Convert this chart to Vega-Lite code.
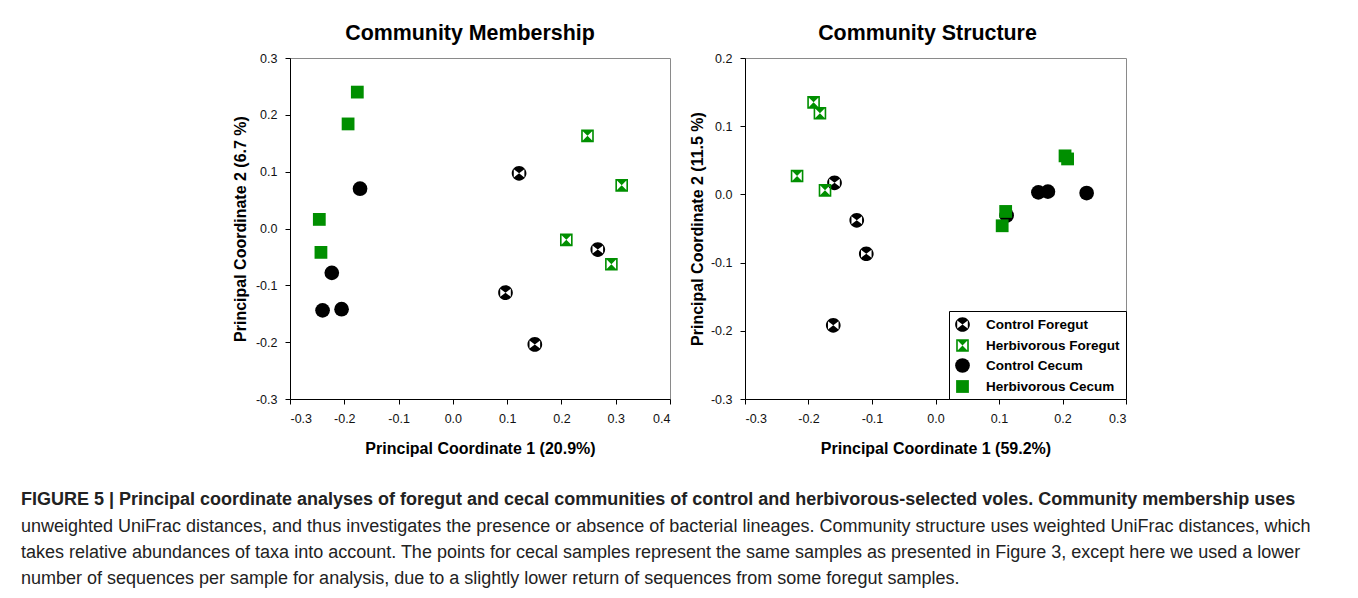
{
  "$schema": "https://vega.github.io/schema/vega-lite/v6.json",
  "padding": {"left": 20, "top": 22, "right": 5, "bottom": 5},
  "background": "white",
  "config": {
    "font": "Liberation Sans",
    "view": {"stroke": "#8a8a8a", "strokeWidth": 1},
    "axis": {
      "domainColor": "#000", "tickColor": "#000", "tickSize": 5, "grid": false,
      "labelFontSize": 12.5, "labelColor": "#111", "labelFont": "Liberation Sans",
      "titleFont": "Liberation Sans", "titleFontSize": 16, "titleFontWeight": "bold", "titleColor": "#000"
    }
  },
  "datasets": {
    "membership": [
      {"group": "Control Foregut", "pc1": 0.122, "pc2": 0.097},
      {"group": "Control Foregut", "pc1": 0.097, "pc2": -0.113},
      {"group": "Control Foregut", "pc1": 0.151, "pc2": -0.204},
      {"group": "Control Foregut", "pc1": 0.267, "pc2": -0.037},
      {"group": "Herbivorous Foregut", "pc1": 0.248, "pc2": 0.163},
      {"group": "Herbivorous Foregut", "pc1": 0.311, "pc2": 0.076},
      {"group": "Herbivorous Foregut", "pc1": 0.209, "pc2": -0.020},
      {"group": "Herbivorous Foregut", "pc1": 0.292, "pc2": -0.063},
      {"group": "Control Cecum", "pc1": -0.171, "pc2": 0.070},
      {"group": "Control Cecum", "pc1": -0.223, "pc2": -0.078},
      {"group": "Control Cecum", "pc1": -0.240, "pc2": -0.144},
      {"group": "Control Cecum", "pc1": -0.205, "pc2": -0.142},
      {"group": "Herbivorous Cecum", "pc1": -0.176, "pc2": 0.240},
      {"group": "Herbivorous Cecum", "pc1": -0.193, "pc2": 0.184},
      {"group": "Herbivorous Cecum", "pc1": -0.246, "pc2": 0.016},
      {"group": "Herbivorous Cecum", "pc1": -0.243, "pc2": -0.042}
    ],
    "structure": [
      {"group": "Control Foregut", "pc1": -0.159, "pc2": 0.017},
      {"group": "Control Foregut", "pc1": -0.124, "pc2": -0.038},
      {"group": "Control Foregut", "pc1": -0.109, "pc2": -0.087},
      {"group": "Control Foregut", "pc1": -0.161, "pc2": -0.192},
      {"group": "Herbivorous Foregut", "pc1": -0.192, "pc2": 0.135},
      {"group": "Herbivorous Foregut", "pc1": -0.182, "pc2": 0.119},
      {"group": "Herbivorous Foregut", "pc1": -0.218, "pc2": 0.027},
      {"group": "Herbivorous Foregut", "pc1": -0.174, "pc2": 0.006},
      {"group": "Control Cecum", "pc1": 0.112, "pc2": -0.031},
      {"group": "Control Cecum", "pc1": 0.162, "pc2": 0.003},
      {"group": "Control Cecum", "pc1": 0.177, "pc2": 0.004},
      {"group": "Control Cecum", "pc1": 0.238, "pc2": 0.002},
      {"group": "Herbivorous Cecum", "pc1": 0.1105, "pc2": -0.025},
      {"group": "Herbivorous Cecum", "pc1": 0.105, "pc2": -0.046},
      {"group": "Herbivorous Cecum", "pc1": 0.204, "pc2": 0.0565},
      {"group": "Herbivorous Cecum", "pc1": 0.208, "pc2": 0.052}
    ]
  },
  "title": {
    "text": ["FIGURE 5 | Principal coordinate analyses of foregut and cecal communities of control and herbivorous-selected voles. Community membership uses"],
    "subtitle": [
      "unweighted UniFrac distances, and thus investigates the presence or absence of bacterial lineages. Community structure uses weighted UniFrac distances, which",
      "takes relative abundances of taxa into account. The points for cecal samples represent the same samples as presented in Figure 3, except here we used a lower",
      "number of sequences per sample for analysis, due to a slightly lower return of sequences from some foregut samples."
    ],
    "orient": "bottom", "anchor": "start", "frame": "bounds",
    "font": "Liberation Sans", "subtitleFont": "Liberation Sans",
    "fontSize": 18, "subtitleFontSize": 18, "fontWeight": "bold", "subtitleFontWeight": "normal",
    "color": "#222", "subtitleColor": "#222",
    "offset": 34, "dx": -211, "lineHeight": 26, "subtitleLineHeight": 26, "subtitlePadding": 9
  },
  "spacing": 17,
  "resolve": {"scale": {"color": "independent", "shape": "independent"}},
  "hconcat": [
    {
      "title": {"text": "Community Membership", "fontSize": 21.4, "fontWeight": "bold", "anchor": "middle", "dx": -10, "offset": 8, "color": "#000"},
      "width": 380, "height": 341,
      "data": {"name": "membership"},
      "mark": {"type": "point", "filled": true, "size": 216, "opacity": 1},
      "encoding": {
        "x": {"field": "pc1", "type": "quantitative",
          "scale": {"domain": [-0.3, 0.4], "nice": false, "zero": false},
          "axis": {"values": [-0.3, -0.2, -0.1, 0, 0.1, 0.2, 0.3, 0.4], "title": "Principal Coordinate 1 (20.9%)",
            "labelExpr": "replace(format(datum.value, '.1f'), '\u2212', '-')", "labelPadding": 8, "titlePadding": 16}},
        "y": {"field": "pc2", "type": "quantitative",
          "scale": {"domain": [-0.3, 0.3], "nice": false, "zero": false},
          "axis": {"values": [-0.3, -0.2, -0.1, 0, 0.1, 0.2, 0.3], "title": "Principal Coordinate 2 (6.7 %)",
            "labelExpr": "replace(format(datum.value, '.1f'), '\u2212', '-')", "labelPadding": 8, "titlePadding": 7}},
        "color": {"field": "group", "type": "nominal",
          "scale": {"domain": ["Control Foregut", "Herbivorous Foregut", "Control Cecum", "Herbivorous Cecum"], "range": ["#000000", "#008f00", "#000000", "#008f00"]},
          "legend": null},
        "shape": {"field": "group", "type": "nominal",
          "scale": {"domain": ["Control Foregut", "Herbivorous Foregut", "Control Cecum", "Herbivorous Cecum"],
            "range": [
              "M1,0A1,1 0 1,1 -1,0A1,1 0 1,1 1,0Z M0,0L-0.72,-0.55L-0.72,0.55Z M0,0L0.72,0.55L0.72,-0.55Z",
              "M-0.86,-0.86L0.86,-0.86L0.86,0.86L-0.86,0.86Z M0,0L-0.64,-0.64L-0.64,0.64Z M0,0L0.64,0.64L0.64,-0.64Z",
              "circle",
              "M-0.87,-0.87L0.87,-0.87L0.87,0.87L-0.87,0.87Z"]},
          "legend": null}
      }
    },
    {
      "title": {"text": "Community Structure", "fontSize": 21.4, "fontWeight": "bold", "anchor": "middle", "dx": -8, "offset": 8, "color": "#000"},
      "width": 381, "height": 341,
      "data": {"name": "structure"},
      "mark": {"type": "point", "filled": true, "size": 216, "opacity": 1},
      "encoding": {
        "x": {"field": "pc1", "type": "quantitative",
          "scale": {"domain": [-0.3, 0.3], "nice": false, "zero": false},
          "axis": {"values": [-0.3, -0.2, -0.1, 0, 0.1, 0.2, 0.3], "title": "Principal Coordinate 1 (59.2%)",
            "labelExpr": "replace(format(datum.value, '.1f'), '\u2212', '-')", "labelPadding": 8, "titlePadding": 16}},
        "y": {"field": "pc2", "type": "quantitative",
          "scale": {"domain": [-0.3, 0.2], "nice": false, "zero": false},
          "axis": {"values": [-0.3, -0.2, -0.1, 0, 0.1, 0.2], "title": "Principal Coordinate 2 (11.5 %)",
            "labelExpr": "replace(format(datum.value, '.1f'), '\u2212', '-')", "labelPadding": 8, "titlePadding": 5}},
        "color": {"field": "group", "type": "nominal",
          "scale": {"domain": ["Control Foregut", "Herbivorous Foregut", "Control Cecum", "Herbivorous Cecum"], "range": ["#000000", "#008f00", "#000000", "#008f00"]},
          "legend": {"orient": "bottom-right", "offset": 0, "title": null, "strokeColor": "#000", "fillColor": "#fff",
            "padding": 6, "labelFontSize": 13.5, "labelFontWeight": "bold", "labelColor": "#000", "labelFont": "Liberation Sans",
            "symbolSize": 216, "rowPadding": 6, "labelOffset": 16, "symbolStrokeWidth": 0}},
        "shape": {"field": "group", "type": "nominal",
          "scale": {"domain": ["Control Foregut", "Herbivorous Foregut", "Control Cecum", "Herbivorous Cecum"],
            "range": [
              "M1,0A1,1 0 1,1 -1,0A1,1 0 1,1 1,0Z M0,0L-0.72,-0.55L-0.72,0.55Z M0,0L0.72,0.55L0.72,-0.55Z",
              "M-0.86,-0.86L0.86,-0.86L0.86,0.86L-0.86,0.86Z M0,0L-0.64,-0.64L-0.64,0.64Z M0,0L0.64,0.64L0.64,-0.64Z",
              "circle",
              "M-0.87,-0.87L0.87,-0.87L0.87,0.87L-0.87,0.87Z"]},
          "legend": {"orient": "bottom-right", "offset": 0, "title": null, "strokeColor": "#000", "fillColor": "#fff",
            "padding": 6, "labelFontSize": 13.5, "labelFontWeight": "bold", "labelColor": "#000", "labelFont": "Liberation Sans",
            "symbolSize": 216, "rowPadding": 6, "labelOffset": 16, "symbolStrokeWidth": 0}}
      }
    }
  ]
}
